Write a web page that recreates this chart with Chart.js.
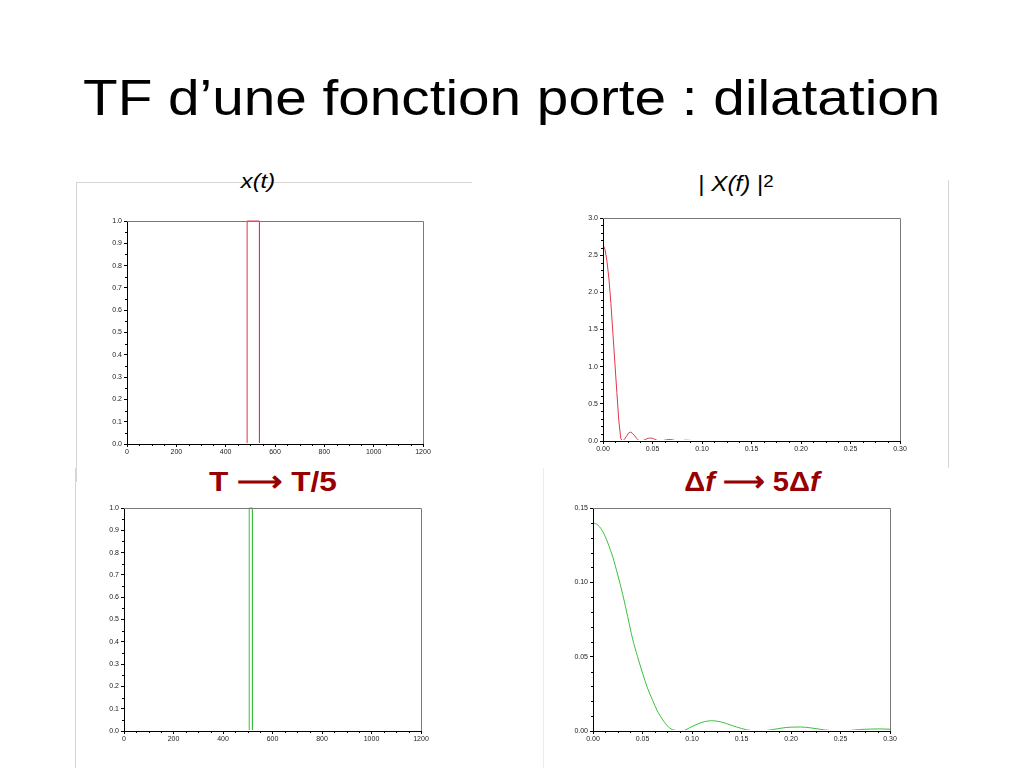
<!DOCTYPE html>
<html><head><meta charset="utf-8">
<script src="https://cdn.jsdelivr.net/npm/chart.js@4.4.1/dist/chart.umd.min.js"></script>
<style>
body{margin:0;background:#fff;width:1024px;height:768px;overflow:hidden;position:relative;font-family:'Liberation Sans',Arial,sans-serif;color:#000}
.abs{position:absolute;white-space:nowrap}
canvas{position:absolute}
.frame{position:absolute;background:#d6d6d6}
.red{color:#960000;font-weight:bold;font-size:28px;line-height:28px;text-align:center;transform-origin:50% 0}
</style></head><body>
<div class="frame" style="left:76px;top:182px;width:396px;height:1px"></div>
<div class="frame" style="left:76px;top:182px;width:1px;height:300px"></div>
<div class="frame" style="left:75px;top:468px;width:1px;height:300px"></div>
<div class="frame" style="left:948px;top:180px;width:1px;height:288px"></div>
<div class="frame" style="left:543px;top:468px;width:1px;height:300px;background:#ececec"></div>

<div class="abs" style="left:83px;top:73px;font-size:50px;line-height:50px;transform-origin:0 0;transform:scaleX(1.134)">TF d’une fonction porte : dilatation</div>
<div class="abs" style="left:208px;top:170px;width:100px;text-align:center;font-size:21px;line-height:21px;font-style:italic;transform:scaleX(1.13)">x(t)</div>
<div class="abs" style="left:676px;top:173px;width:120px;text-align:center;font-size:22px;line-height:22px;transform:scaleX(1.1)">| <i>X(f)</i> |<span style="font-size:17px;position:relative;top:-4px">2</span></div>
<div class="abs red" style="left:173px;top:468px;width:200px;transform:scaleX(1.13)">T ⟶ T/5</div>
<div class="abs red" style="left:652px;top:468px;width:200px;transform:scaleX(1.04)">Δ<i>f</i> ⟶ 5Δ<i>f</i></div>

<canvas id="c1" width="348" height="251" style="left:87px;top:213px"></canvas>
<canvas id="c2" width="349" height="251" style="left:563px;top:210px"></canvas>
<canvas id="c3" width="349" height="251" style="left:84px;top:500px"></canvas>
<canvas id="c4" width="349" height="251" style="left:553px;top:500px"></canvas>

<script>
// ---- data ----
const pulseWideT = [0, 487, 487, 537, 537, 1200];
const pulseWideX = [0, 0, 1, 1, 0, 0];
const pulseNarrowT = [0, 506, 506, 519, 519, 1200];
const pulseNarrowX = [0, 0, 1, 1, 0, 0];

const freqWide = [0,0.002,0.004,0.006,0.008,0.010,0.012,0.014,0.016,0.018,0.020,0.022,0.024,0.026,0.028,0.030,0.032,0.034,0.036,0.038,0.040,0.042,0.044,0.046,0.048,0.050,0.052,0.054,0.056,0.058,0.060,0.062,0.064,0.066,0.068,0.070,0.072,0.074,0.076,0.080,0.084,0.088,0.092,0.096,0.100,0.104,0.108,0.112,0.300];
const powerWide = [2.64,2.58,2.42,2.18,1.85,1.45,1.05,0.65,0.27,0.03,0.0,0.03,0.07,0.11,0.12,0.10,0.07,0.035,0.008,0.0,0.005,0.015,0.028,0.037,0.040,0.036,0.025,0.012,0.003,0.0,0.004,0.010,0.016,0.019,0.020,0.016,0.009,0.003,0.0,0.006,0.011,0.008,0.001,0.0,0.004,0.006,0.003,0.0,0.0];

const freqNarrow = [0,0.005,0.01,0.015,0.02,0.025,0.03,0.035,0.04,0.045,0.05,0.055,0.06,0.065,0.07,0.075,0.08,0.09,0.10,0.11,0.12,0.13,0.14,0.15,0.16,0.17,0.18,0.19,0.20,0.21,0.22,0.23,0.24,0.25,0.26,0.27,0.28,0.29,0.30];
const powerNarrow = [0.140,0.1385,0.134,0.1265,0.117,0.105,0.092,0.077,0.062,0.050,0.039,0.029,0.021,0.0135,0.008,0.0035,0.001,0.0002,0.003,0.0058,0.0069,0.006,0.0038,0.0017,0.0003,0.0001,0.0008,0.0019,0.0026,0.0027,0.0021,0.0011,0.0003,0.0001,0.0004,0.0010,0.0013,0.0014,0.0012];

const timeTickLabels = ['0','200','400','600','800','1000','1200'];
const freqTickLabels = ['0.00','0.05','0.10','0.15','0.20','0.25','0.30'];
const unitTickLabels = ['0.0','0.1','0.2','0.3','0.4','0.5','0.6','0.7','0.8','0.9','1.0'];
const powerWideTickLabels = ['0.0','0.5','1.0','1.5','2.0','2.5','3.0'];
const powerNarrowTickLabels = ['0.00','0.05','0.10','0.15'];

// ---- chart helpers ----
const sciAxes = {
  id: 'sciAxes',
  afterDraw(chart) {
    const {ctx, chartArea: a, scales: {x, y}} = chart;
    ctx.save();
    ctx.lineWidth = 1;
    ctx.strokeStyle = '#7a7a7a';
    ctx.beginPath();
    ctx.moveTo(a.left, Math.round(a.top) + 0.5);
    ctx.lineTo(Math.round(a.right) + 0.5, Math.round(a.top) + 0.5);
    ctx.lineTo(Math.round(a.right) + 0.5, a.bottom);
    ctx.stroke();
    ctx.strokeStyle = '#000';
    ctx.beginPath();
    x.ticks.forEach(t => {
      if (!t.label) {
        const px = Math.round(x.getPixelForValue(t.value)) + 0.5;
        ctx.moveTo(px, a.bottom); ctx.lineTo(px, a.bottom + 2);
      }
    });
    y.ticks.forEach(t => {
      if (!t.label) {
        const py = Math.round(y.getPixelForValue(t.value)) + 0.5;
        ctx.moveTo(a.left, py); ctx.lineTo(a.left - 2, py);
      }
    });
    ctx.stroke();
    ctx.restore();
  }
};

function labelFrom(labels) {
  const vals = labels.map(parseFloat);
  return v => {
    const i = vals.findIndex(m => Math.abs(m - v) < 1e-9);
    return i >= 0 ? labels[i] : '';
  };
}

function axis(labels, minorStep, isX) {
  const vals = labels.map(parseFloat);
  return {
    type: 'linear',
    min: vals[0],
    max: vals[vals.length - 1],
    border: {display: true, color: '#000', width: 1, z: 1},
    grid: {
      display: true, drawOnChartArea: false, drawTicks: true, tickLength: 3, z: 1,
      tickColor: c => (c.tick && c.tick.label) ? '#000' : 'rgba(0,0,0,0)'
    },
    ticks: {
      z: 1,
      stepSize: minorStep,
      autoSkip: false,
      maxRotation: 0,
      padding: isX ? 1 : 2,
      color: '#222',
      font: {family: "'Liberation Sans', Arial, sans-serif", size: 7},
      callback: labelFrom(labels)
    },
    afterFit: s => { if (isX) s.height = 20; else s.width = 40; }
  };
}

function makeChart(id, xs, ys, color, xLabels, xMinor, yLabels, yMinor, tension) {
  new Chart(document.getElementById(id), {
    type: 'line',
    data: {
      datasets: [{
        data: xs.map((v, i) => ({x: v, y: ys[i]})),
        borderColor: color,
        borderWidth: 1,
        pointRadius: 0,
        fill: false,
        clip: {left: 0, top: 1, right: 1, bottom: -1},
        tension: tension,
        cubicInterpolationMode: tension > 0 ? 'monotone' : 'default'
      }]
    },
    options: {
      responsive: false,
      animation: false,
      devicePixelRatio: 1,
      layout: {padding: {top: 8, right: 12, left: 0, bottom: 0}},
      plugins: {legend: {display: false}, tooltip: {enabled: false}},
      scales: {
        x: axis(xLabels, xMinor, true),
        y: axis(yLabels, yMinor, false)
      }
    },
    plugins: [sciAxes]
  });
}

makeChart('c1', pulseWideT, pulseWideX, '#e2354a', timeTickLabels, 50, unitTickLabels, 0.05, 0);
makeChart('c2', freqWide, powerWide, '#e2354a', freqTickLabels, 0.0125, powerWideTickLabels, 0.1, 0);
makeChart('c3', pulseNarrowT, pulseNarrowX, '#3cc03c', timeTickLabels, 50, unitTickLabels, 0.05, 0);
makeChart('c4', freqNarrow, powerNarrow, '#3cc03c', freqTickLabels, 0.0125, powerNarrowTickLabels, 0.01, 0.4);
</script>
</body></html>
